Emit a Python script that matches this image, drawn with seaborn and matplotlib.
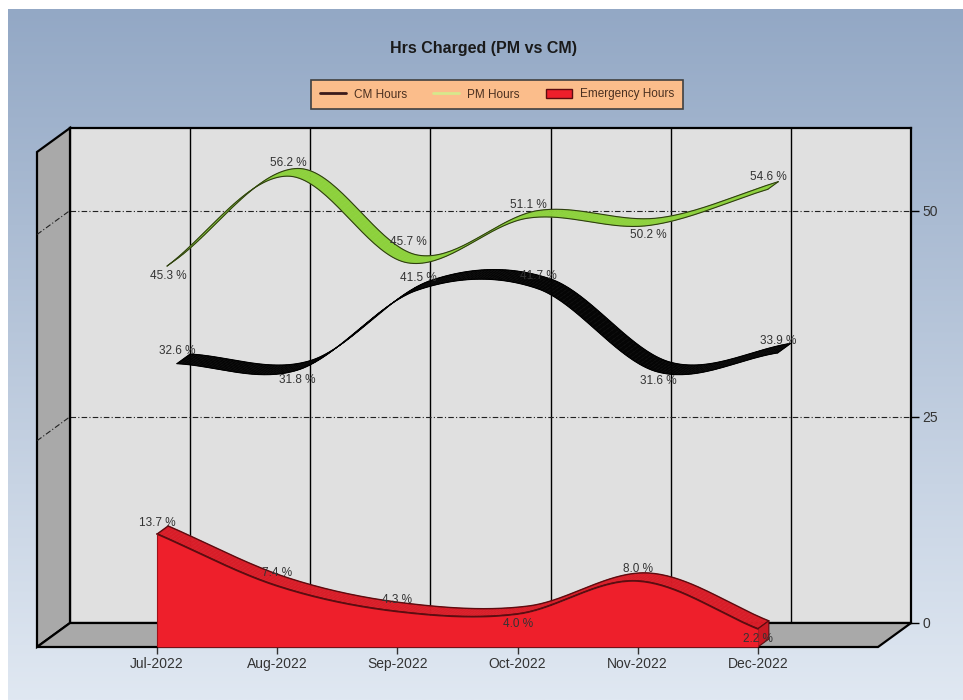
"""
Hrs Charged (PM vs CM) - pseudo 3D ribbon chart, Jul-Dec 2022
"""

import matplotlib.pyplot as plt
import numpy as np
import pandas as pd
import seaborn as sns
from matplotlib.collections import PolyCollection
from matplotlib.lines import Line2D
from matplotlib.patches import Patch, Polygon

months = ['Jul-2022', 'Aug-2022', 'Sep-2022', 'Oct-2022', 'Nov-2022', 'Dec-2022']
cm_hours = [32.6, 31.8, 41.5, 41.7, 31.6, 33.9]
pm_hours = [45.3, 56.2, 45.7, 51.1, 50.2, 54.6]
emergency_hours = [13.7, 7.4, 4.3, 4.0, 8.0, 2.2]
right_ticks = [0, 25, 50]

sns.set_theme(style='white')
plt.rcParams['font.family'] = ['Liberation Sans', 'DejaVu Sans']

W, H = 963, 700
fig = plt.figure(figsize=(W / 100, H / 100), dpi=100, facecolor='white')

# front plane of the box (pixels), and the depth shift of the back wall
L, B, PW, PH = 37, 53, 841, 495
DEPTH_PX = (33, 24)
XLIM, YLIM = (-1, 6), (0, 60)
sx = PW / (XLIM[1] - XLIM[0])
sy = PH / (YLIM[1] - YLIM[0])


def depth(z):
    return DEPTH_PX[0] * z / sx, DEPTH_PX[1] * z / sy


def smooth(vals, n=40):
    # cubic hermite through the points (catmull-rom tangents), only for drawing
    y = np.asarray(vals, dtype=float)
    m = np.gradient(y)
    xs, ys = [], []
    for i in range(len(y) - 1):
        t = np.linspace(0, 1, n, endpoint=(i == len(y) - 2))
        h00 = 2 * t**3 - 3 * t**2 + 1
        h10 = t**3 - 2 * t**2 + t
        h01 = -2 * t**3 + 3 * t**2
        h11 = t**3 - t**2
        xs.append(i + t)
        ys.append(h00 * y[i] + h10 * m[i] + h01 * y[i + 1] + h11 * m[i + 1])
    return np.concatenate(xs), np.concatenate(ys)


# background gradient
bg = fig.add_axes([8 / W, 0, 1 - 8 / W, 691 / H], zorder=-10)
grad = np.linspace(0, 1, 256).reshape(-1, 1)
top_c = np.array([0x93, 0xa8, 0xc5]) / 255
bot_c = np.array([0xe0, 0xe8, 0xf2]) / 255
bg.imshow(top_c + grad[..., None] * (bot_c - top_c), aspect='auto', extent=(0, 1, 0, 1))
bg.axis('off')

# back wall
axb = fig.add_axes([(L + DEPTH_PX[0]) / W, (B + DEPTH_PX[1]) / H, PW / W, PH / H])
axb.set_xlim(*XLIM)
axb.set_ylim(*YLIM)
axb.set_facecolor('#e0e0e0')
for s in axb.spines.values():
    s.set_color('black')
    s.set_linewidth(1.6)
axb.set_xticks(range(len(months)))
axb.set_xticklabels([])
axb.tick_params(axis='x', length=0)
axb.xaxis.grid(True, color='black', lw=1.0)
axb.yaxis.tick_right()
axb.set_yticks(right_ticks)
axb.yaxis.grid(True, color='#222222', lw=0.8, ls=(0, (5, 2, 1, 2)))
axb.tick_params(axis='y', right=True, length=6, width=1, color='black',
                labelsize=10, labelcolor='#333333', pad=2)
axb.set_axisbelow(True)

# front axes with the series
ax = fig.add_axes([L / W, B / H, PW / W, PH / H])
ax.set_xlim(*XLIM)
ax.set_ylim(*YLIM)
ax.set_facecolor('none')
for s in ax.spines.values():
    s.set_visible(False)
ax.set_yticks([])
ax.set_xticks(range(len(months)))
ax.set_xticklabels(months)
ax.tick_params(axis='x', bottom=True, length=5, width=1, color='#333333',
               labelsize=10, labelcolor='#333333', pad=2)

DX, DY = depth(1)
x0, x1 = XLIM
wall = Polygon([(x0, 0), (x0, YLIM[1]), (x0 + DX, YLIM[1] + DY), (x0 + DX, DY)],
               closed=True, fc='#a9a9a9', ec='black', lw=1.6, clip_on=False, zorder=1)
floor = Polygon([(x0, 0), (x1, 0), (x1 + DX, DY), (x0 + DX, DY)],
                closed=True, fc='#a9a9a9', ec='black', lw=1.6, clip_on=False, zorder=1)
ax.add_patch(wall)
ax.add_patch(floor)
for v in right_ticks[1:]:
    ax.plot([x0, x0 + DX], [v, v + DY], color='#222222', lw=0.8,
            ls=(0, (5, 2, 1, 2)), clip_on=False, zorder=1.5)


def ribbon(vals, z0, z1, face, edge, zorder, lw=0.8):
    xs, ys = smooth(vals)
    dx0, dy0 = depth(z0)
    dx1, dy1 = depth(z1)
    quads = [[(xs[i] + dx0, ys[i] + dy0), (xs[i + 1] + dx0, ys[i + 1] + dy0),
              (xs[i + 1] + dx1, ys[i + 1] + dy1), (xs[i] + dx1, ys[i] + dy1)]
             for i in range(len(xs) - 1)]
    ax.add_collection(PolyCollection(quads, facecolors=face, edgecolors=face,
                                     linewidths=0.4, zorder=zorder))
    for dx, dy in [(dx0, dy0), (dx1, dy1)]:
        sns.lineplot(x=xs + dx, y=ys + dy, ax=ax, color=edge, lw=lw,
                     sort=False, estimator=None, zorder=zorder + 0.1)
    for i in [0, len(xs) - 1]:
        ax.plot([xs[i] + dx0, xs[i] + dx1], [ys[i] + dy0, ys[i] + dy1],
                color=edge, lw=lw, zorder=zorder + 0.1)
    return xs, ys


def add_labels(vals, z, offsets, zorder=20):
    dx, dy = depth(z)
    for i, v in enumerate(vals):
        ax.annotate(f'{v:.1f} %', (i + dx, v + dy), xytext=(0, offsets[i]),
                    textcoords='offset pixels', ha='center', va='center',
                    fontsize=8.5, color='#333333', zorder=zorder)


# CM Hours (back), PM Hours (middle), Emergency Hours (front)
ribbon(cm_hours, 0.6, 1, '#050505', '#000000', 3)
ribbon(pm_hours, 0.3, 0.62, '#8dd13c', '#2f3d12', 4)

exs, eys = ribbon(emergency_hours, 0, 1 / 3, '#d81d28', '#5c0c10', 5, lw=1.0)
ex_dx, ex_dy = depth(1 / 3)
end_face = Polygon([(exs[-1], 0), (exs[-1], eys[-1]), (exs[-1] + ex_dx, eys[-1] + ex_dy),
                    (exs[-1] + ex_dx, ex_dy)], closed=True, fc='#c81a24', ec='#5c0c10',
                   lw=0.8, zorder=5.5)
ax.add_patch(end_face)
ax.fill_between(exs, 0, eys, color='#ee1f2b', lw=0, zorder=6)
sns.lineplot(x=exs, y=eys, ax=ax, color='#5c0c10', lw=1.3, sort=False,
             estimator=None, zorder=6.5)
ax.plot([0, 0], [0, emergency_hours[0]], color='#a01018', lw=0.8, zorder=6.5)

add_labels(pm_hours, 1 / 3, [-11, 12, 20, 12, -10, 12])
add_labels(cm_hours, 0.62, [12, -10, 12, 12, -10, 11])
add_labels(emergency_hours, 0, [11, 13, 12, -10, 12, -10])

fig.text(483 / W, 1 - 48 / H, 'Hrs Charged (PM vs CM)', ha='center', va='center',
         fontsize=11.5, fontweight='bold', color='#1a1a1a')

handles = [Line2D([], [], color='#3a1a1a', lw=2),
           Line2D([], [], color='#d6e88c', lw=2),
           Patch(facecolor='#ee1f2b', edgecolor='#5c0c10')]
leg = fig.legend(handles, ['CM Hours', 'PM Hours', 'Emergency Hours'], loc='center',
                 bbox_to_anchor=(497 / W, 1 - 94.5 / H), ncol=3, fontsize=8.5,
                 frameon=True, fancybox=False, facecolor='#fbbd8b', edgecolor='#404040',
                 framealpha=1, handlelength=2.2, handletextpad=0.7,
                 columnspacing=2.2, borderpad=0.7)
leg.get_frame().set_linewidth(1.2)
for t in leg.get_texts():
    t.set_color('#4a3020')

fig.savefig('out.png', dpi=100)
